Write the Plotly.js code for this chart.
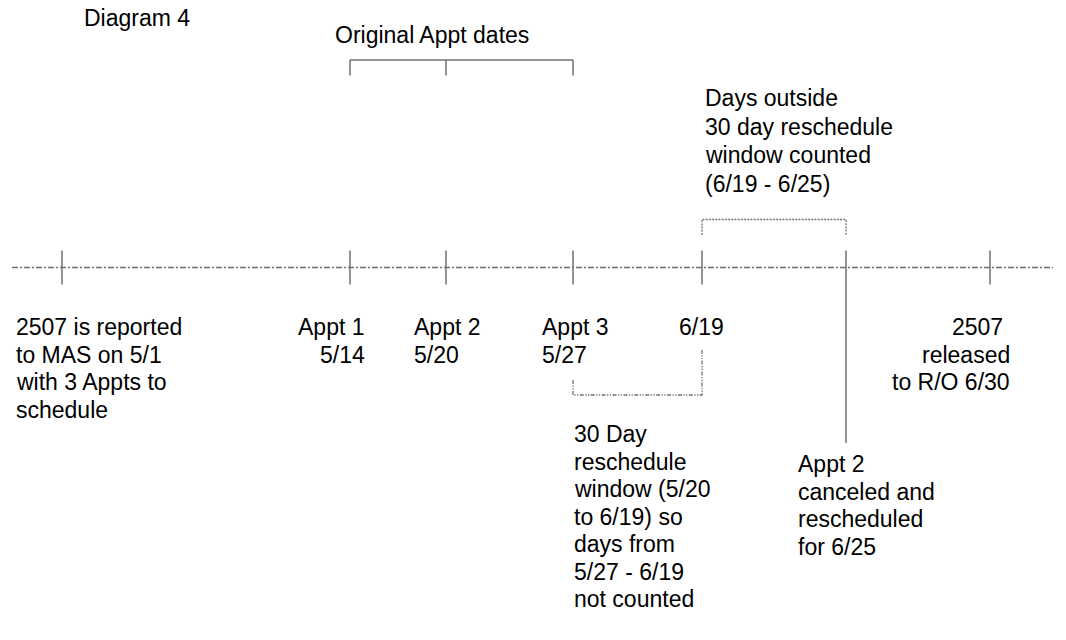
<!DOCTYPE html>
<html>
<head>
<meta charset="utf-8">
<script src="https://cdn.plot.ly/plotly-3.0.1.min.js"></script>
<style>
  html, body { margin: 0; padding: 0; background: #ffffff; }
  #chart { width: 1066px; height: 640px; }
</style>
</head>
<body>
<div id="chart"></div>
<script>
// ---- Data: timeline events (schematic position along the diagram's axis) ----
const eventDates = ['5/1', '5/14', '5/20', '5/27', '6/19', '6/25', '6/30'];
const eventPos   = [62, 350, 446, 573, 702, 846, 990];
const originalAppts = ['5/14', '5/20', '5/27'];
const notCountedSpan = ['5/27', '6/19'];
const countedSpan    = ['6/19', '6/25'];
const rescheduledTo  = '6/25';

// ---- Text labels ----
const titleText = 'Diagram 4';
const bracketTitle = 'Original Appt dates';
const labelReported  = ['2507 is reported', 'to MAS on 5/1', 'with 3 Appts to', 'schedule'];
const labelAppt1     = ['Appt 1', '5/14'];
const labelAppt2     = ['Appt 2', '5/20'];
const labelAppt3     = ['Appt 3', '5/27'];
const label619       = ['6/19'];
const labelReleased  = ['2507', 'released', 'to R/O 6/30'];
const labelOutside   = ['Days outside', '30 day reschedule', 'window counted', '(6/19 - 6/25)'];
const labelWindow    = ['30 Day', 'reschedule', 'window (5/20', 'to 6/19) so', 'days from', '5/27 - 6/19', 'not counted'];
const labelCanceled  = ['Appt 2', 'canceled and', 'rescheduled', 'for 6/25'];

// ---- Styling / layout helpers ----
const pos = d => eventPos[eventDates.indexOf(d)];
const LINE = '#707070';
const FONT = {family: 'Liberation Sans, Arial, sans-serif', size: 23, color: '#000000'};
const axisY = 267.5;

const traces = [];
function seg(xs, ys, dash, width) {
  traces.push({
    type: 'scatter', mode: 'lines', x: xs, y: ys, hoverinfo: 'skip', showlegend: false,
    line: {color: LINE, width: width || 1.3, dash: dash || 'solid'}
  });
}

// main dash-dot timeline axis
seg([12, 1053], [axisY, axisY], '6px,2px,2px,2px', 1.3);
// event ticks
eventDates.forEach(d => {
  const bottom = d === rescheduledTo ? 443 : 284.5;
  seg([pos(d), pos(d)], [250.5, bottom], 'solid', 1.5);
});
// original appointment bracket
const oa = originalAppts.map(pos);
seg([oa[0], oa[oa.length - 1]], [60, 60], 'solid', 1.5);
oa.forEach(x => seg([x, x], [60, 75.5], 'solid', 1.5));
// counted (dotted) bracket above the axis
const c0 = pos(countedSpan[0]), c1 = pos(countedSpan[1]);
seg([c0, c0, c1, c1], [235, 219.5, 219.5, 235], '2px,1.2px', 1.3);
// not-counted (dash-dot-dot) bracket below the axis
const n0 = pos(notCountedSpan[0]), n1 = pos(notCountedSpan[1]);
seg([n0, n0, n1, n1], [380, 395, 395, 350], '4px,1.5px,1.2px,1.5px,1.2px,1.5px', 1.3);

// text annotations (one per line)
const annotations = [];
function label(lines, x, y0, anchor, dy) {
  lines.forEach((t, i) => {
    annotations.push({
      x: x, y: y0 + i * (dy || 27.5), xref: 'x', yref: 'y', text: t, showarrow: false,
      xanchor: anchor, yanchor: 'middle', font: FONT
    });
  });
}
label([titleText], 82, 18, 'left');
label([bracketTitle], 333, 35, 'left');
label(labelReported, 14, 327, 'left');
label(labelAppt1, 367, 327, 'right');
label(labelAppt2, 412, 327, 'left');
label(labelAppt3, 540, 327, 'left');
label(label619, 677, 327, 'left');
label(labelReleased.slice(0, 1), 1005, 327, 'right');
label(labelReleased.slice(1), 1012, 354.5, 'right');
label(labelOutside, 703, 98, 'left', 28.5);
label(labelWindow, 572, 434, 'left');
label(labelCanceled, 796, 464, 'left');

const layout = {
  width: 1066, height: 640,
  margin: {l: 0, r: 0, t: 0, b: 0, pad: 0},
  paper_bgcolor: '#ffffff', plot_bgcolor: '#ffffff',
  xaxis: {range: [0, 1066], visible: false, fixedrange: true},
  yaxis: {range: [640, 0], visible: false, fixedrange: true},
  showlegend: false,
  annotations: annotations
};

Plotly.newPlot('chart', traces, layout, {displayModeBar: false, staticPlot: true});
</script>
</body>
</html>
